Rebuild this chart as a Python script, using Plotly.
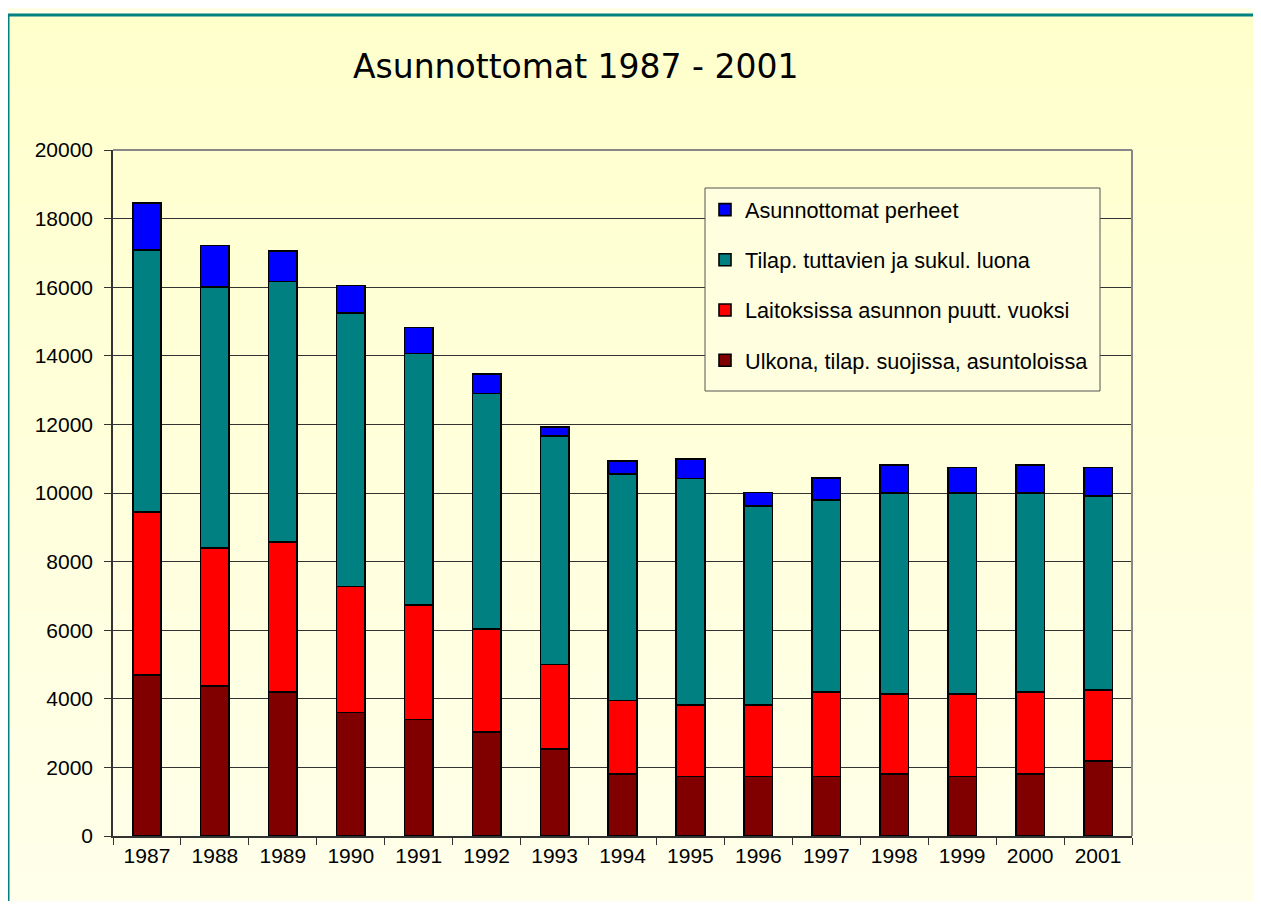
import base64, struct, zlib
import plotly.graph_objects as go

years = ["1987", "1988", "1989", "1990", "1991", "1992", "1993", "1994",
         "1995", "1996", "1997", "1998", "1999", "2000", "2001"]

ulkona = [4700, 4380, 4200, 3600, 3400, 3030, 2540, 1800, 1730, 1730, 1730, 1800, 1730, 1800, 2180]
laitoksissa = [4750, 4020, 4380, 3680, 3330, 3010, 2460, 2150, 2090, 2090, 2470, 2340, 2410, 2400, 2080]
tilap = [7630, 7600, 7590, 7970, 7340, 6860, 6670, 6610, 6600, 5800, 5600, 5860, 5860, 5800, 5660]
perheet = [1380, 1220, 880, 800, 760, 570, 250, 370, 580, 390, 640, 810, 740, 810, 820]

series_names = [
    "Ulkona, tilap. suojissa, asuntoloissa",
    "Laitoksissa asunnon puutt. vuoksi",
    "Tilap. tuttavien ja sukul. luona",
    "Asunnottomat perheet",
]
series_values = [ulkona, laitoksissa, tilap, perheet]
series_colors = ["#800000", "#FF0000", "#008080", "#0000FF"]
legend_ranks = [4, 3, 2, 1]


def gradient_png(h, top, bottom):
    rows = b""
    for i in range(h):
        t = i / (h - 1)
        c = bytes(int(round(top[k] + (bottom[k] - top[k]) * t)) for k in range(3))
        rows += b"\x00" + c
    def chunk(tag, data):
        return struct.pack(">I", len(data)) + tag + data + struct.pack(">I", zlib.crc32(tag + data) & 0xffffffff)
    png = b"\x89PNG\r\n\x1a\n"
    png += chunk(b"IHDR", struct.pack(">IIBBBBB", 1, h, 8, 2, 0, 0, 0))
    png += chunk(b"IDAT", zlib.compress(rows))
    png += chunk(b"IEND", b"")
    return "data:image/png;base64," + base64.b64encode(png).decode()


PAGE_W, PAGE_H = 1261, 909
OFF = 8  # page body margin
W, H = PAGE_W - 2 * OFF, PAGE_H - 2 * OFF
L, R, T, B = 113, 1132, 150, 836  # plot area in page pixels
pw, ph = R - L, B - T


def px(x):
    return (x - L) / pw


def py(y):
    return (B - y) / ph


fig = go.Figure()
for name, vals, col, rk in zip(series_names, series_values, series_colors, legend_ranks):
    fig.add_trace(go.Bar(
        x=years, y=vals, name=name, legendgroup=name, legendrank=rk,
        marker=dict(color=col, line=dict(color="black", width=1.6)),
    ))

bg = gradient_png(256, (255, 255, 204), (255, 255, 236))

fig.update_layout(
    width=W, height=H,
    barmode="stack", bargap=0.58,
    margin=dict(l=L - OFF, r=(W + OFF) - R, t=T - OFF, b=(H + OFF) - B),
    paper_bgcolor="#FFFFE6",
    plot_bgcolor="rgba(0,0,0,0)",
    font=dict(family="Liberation Sans, Arial, sans-serif", size=21, color="black"),
    images=[dict(source=bg, xref="paper", yref="paper", x=px(8), y=py(15),
                 sizex=(PAGE_W - 8) / pw + 0.05, sizey=(PAGE_H - 15) / ph + 0.05,
                 sizing="stretch", xanchor="left", yanchor="top", layer="below")],
    shapes=[
        dict(type="rect", xref="paper", yref="paper", x0=px(8), y0=-0.3, x1=1.5, y1=py(15),
             line=dict(color="#008080", width=3), layer="below"),
        dict(type="line", xref="paper", yref="paper", x0=0, y0=1, x1=1, y1=1,
             line=dict(color="#888888", width=2)),
        dict(type="line", xref="paper", yref="paper", x0=1, y0=0, x1=1, y1=1,
             line=dict(color="#888888", width=2)),
        dict(type="rect", xref="paper", yref="paper", x0=px(705), x1=px(1100),
             y0=py(391), y1=py(188), fillcolor="#FFFFE0",
             line=dict(color="#555555", width=1), layer="above"),
    ],
    annotations=[dict(text="Asunnottomat 1987 - 2001", xref="paper", yref="paper",
                      x=px(575), y=py(67), xanchor="center", yanchor="middle",
                      showarrow=False,
                      font=dict(family="DejaVu Sans, Verdana, sans-serif", size=33, color="black"))],
    legend=dict(
        x=px(705), y=py(189), xanchor="left", yanchor="top",
        bgcolor="rgba(0,0,0,0)", borderwidth=0,
        font=dict(family="Liberation Sans, Arial, sans-serif", size=21.7, color="black"),
        traceorder="grouped", tracegroupgap=19,
    ),
    xaxis=dict(
        type="category", showgrid=False, ticks="outside", ticklen=7, tickcolor="#333",
        tickson="boundaries", showline=True, linecolor="#333", linewidth=1.5,
        tickfont=dict(size=21),
    ),
    yaxis=dict(
        range=[0, 20000], dtick=2000, tick0=0, tickformat="d",
        showgrid=True, gridcolor="#333", gridwidth=1,
        ticks="outside", ticklen=7, tickcolor="#333", showline=True, linecolor="#333",
        linewidth=1.5, zeroline=False, tickfont=dict(size=21), ticklabelstandoff=7,
    ),
)

fig.write_html("out.html")
